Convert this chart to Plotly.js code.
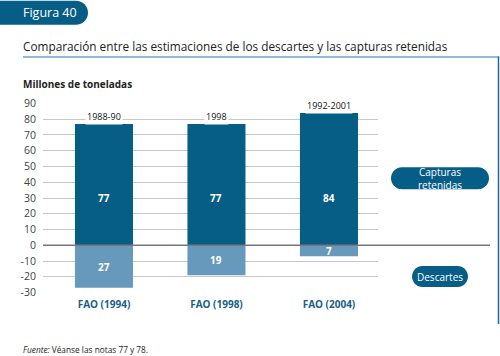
<!DOCTYPE html>
<html><head><meta charset="utf-8">
<script src="https://cdn.plot.ly/plotly-3.0.1.min.js"></script>
<style>html,body{margin:0;padding:0;background:#fff}#chart{width:500px;height:356px}</style>
</head><body><div id="chart"></div>
<script>
const categories = ['FAO (1994)', 'FAO (1998)', 'FAO (2004)'];
const periods = ['1988-90', '1998', '1992-2001'];
const retained = [77, 77, 84];
const discards = [27, 19, 7];
const yTicks = [-30, -20, -10, 0, 10, 20, 30, 40, 50, 60, 70, 80, 90];

const DARK = '#065d86', LIGHT = '#6699bb';
const W = 500, H = 356, ML = 43, MR = 122, MT = 102.5, MB = 63;
const PW = W - ML - MR, PH = H - MT - MB;
const px = x => (x - ML) / PW;
const py = y => (H - MB - y) / PH;
const xs = categories.map((c, i) => i);

function pill(w, h) {
  const r = h / 2, k = 0.5523 * r, a = w / 2 - r;
  return `M ${-a},${-r} L ${a},${-r} C ${a + k},${-r} ${a + r},${-k} ${a + r},0 C ${a + r},${k} ${a + k},${r} ${a},${r} ` +
         `L ${-a},${r} C ${-a - k},${r} ${-a - r},${k} ${-a - r},0 C ${-a - r},${-k} ${-a - k},${-r} ${-a},${-r} Z`;
}
function pillShape(x0, x1, y0, y1) {
  return {type: 'path', xref: 'paper', yref: 'paper', xsizemode: 'pixel', ysizemode: 'pixel',
    xanchor: px((x0 + x1) / 2), yanchor: py((y0 + y1) / 2), path: pill(x1 - x0, y1 - y0),
    fillcolor: DARK, line: {width: 0}, layer: 'above'};
}

const FONT = 'Open Sans, Noto Sans, sans-serif';
const traces = [
  {type: 'bar', x: xs, y: retained, width: 0.516, marker: {color: DARK}, hoverinfo: 'skip', showlegend: false},
  {type: 'bar', x: xs, y: discards.map(v => -v), width: 0.516, marker: {color: LIGHT}, hoverinfo: 'skip', showlegend: false}
];

const annotations = [];
xs.forEach((x, i) => {
  annotations.push({x: x, y: retained[i], xref: 'x', yref: 'y', text: periods[i], showarrow: false,
    yanchor: 'bottom', yshift: -1, bgcolor: '#fff', borderpad: 1, font: {family: FONT, size: 9, color: '#111'}});
  annotations.push({x: x, y: 30, xref: 'x', yref: 'y', text: '<b>' + retained[i] + '</b>', showarrow: false,
    font: {family: FONT, size: 10, color: '#fff'}});
  annotations.push({x: x, y: -discards[i] / 2, xref: 'x', yref: 'y', text: '<b>' + discards[i] + '</b>', showarrow: false,
    font: {family: FONT, size: 10, color: '#fff'}});
});
const txt = (x, y, text, size, color, extra) => Object.assign({xref: 'paper', yref: 'paper', x: px(x), y: py(y),
  text: text, showarrow: false, xanchor: 'left', yanchor: 'middle', font: {family: FONT, size: size, color: color}}, extra || {});
annotations.push(txt(21, 12, 'Figura 40', 12.5, '#fff'));
annotations.push(txt(21, 45, 'Comparación entre las estimaciones de los descartes y las capturas retenidas', 11.8, '#222'));
annotations.push(txt(21, 83, '<b>Millones de toneladas</b>', 10, '#222'));
annotations.push(txt(21, 350, '<i>Fuente:</i> Véanse las notas 77 y 78.', 8.3, '#222'));
annotations.push(txt(440, 178, 'Capturas<br>retenidas', 10, '#fff', {xanchor: 'center'}));
annotations.push(txt(440, 276.5, 'Descartes', 10, '#fff', {xanchor: 'center'}));

const shapes = [
  {type: 'path', xref: 'paper', yref: 'paper', xsizemode: 'pixel', ysizemode: 'pixel',
   xanchor: px(34), yanchor: py(12), path: pill(108, 24), fillcolor: DARK, line: {width: 0}},
  {type: 'line', xref: 'paper', yref: 'paper', x0: px(23), x1: px(499), y0: py(56.5), y1: py(56.5), line: {color: '#6ca5c8', width: 1.5}},
  {type: 'line', xref: 'paper', yref: 'paper', x0: px(498.5), x1: px(498.5), y0: py(56), y1: py(324), line: {color: '#1d6a94', width: 1.5}},
  {type: 'line', xref: 'paper', yref: 'y', x0: 0, x1: px(490), y0: 0, y1: 0, line: {color: '#777', width: 1.5}, layer: 'above'},
  pillShape(391, 489, 167, 189),
  pillShape(412, 468, 266, 287)
];

const layout = {
  width: W, height: H, margin: {l: ML, r: MR, t: MT, b: MB},
  paper_bgcolor: '#fff', plot_bgcolor: '#fff', barmode: 'relative',
  font: {family: FONT},
  xaxis: {range: [-0.542, 2.436], tickvals: xs, ticktext: categories.map(c => '<b>' + c + '</b>'),
    showgrid: false, zeroline: false, showline: false, ticks: '', ticklabelstandoff: 4,
    tickfont: {family: FONT, size: 10, color: '#1a5e8a'}, fixedrange: true},
  yaxis: {range: [-30.3, 90.3], tickvals: yTicks, ticktext: yTicks.map(String), showgrid: true, gridcolor: '#c8c8c8',
    gridwidth: 1, zeroline: false, showline: false, ticks: '', ticklabelstandoff: 6,
    tickfont: {family: FONT, size: 10.5, color: '#444'}, fixedrange: true},
  annotations: annotations, shapes: shapes, showlegend: false
};
Plotly.newPlot('chart', traces, layout, {displayModeBar: false, staticPlot: true});
</script></body></html>
